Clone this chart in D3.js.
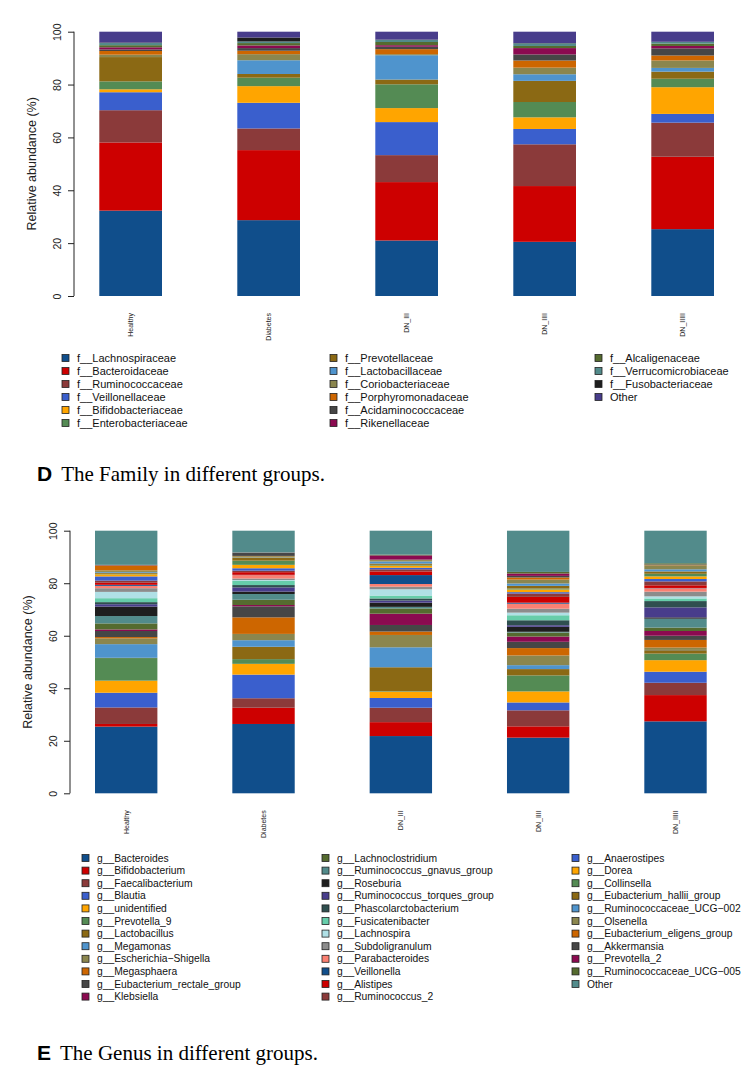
<!DOCTYPE html>
<html><head><meta charset="utf-8">
<script src="https://cdn.jsdelivr.net/npm/d3@7"></script>
<style>body{margin:0;background:#fff}svg{display:block}</style>
</head><body><svg id="c" width="750" height="1075"></svg>
<script>
// ---------- data ----------
const groups = ["Healthy", "Diabetes", "DN_III", "DN_IIII", "DN_IIIII"];
const yTicks = [0, 20, 40, 60, 80, 100];

const familyNames = ["f__Lachnospiraceae","f__Bacteroidaceae","f__Ruminococcaceae","f__Veillonellaceae","f__Bifidobacteriaceae","f__Enterobacteriaceae","f__Prevotellaceae","f__Lactobacillaceae","f__Coriobacteriaceae","f__Porphyromonadaceae","f__Acidaminococcaceae","f__Rikenellaceae","f__Alcaligenaceae","f__Verrucomicrobiaceae","f__Fusobacteriaceae","Other"];
const familyHealthy  = [32.3, 25.8, 12.2, 6.8, 1.1, 3.0, 9.2, 0.0, 0.9, 1.4, 0.6, 0.8, 0.8, 0.8, 0.2, 4.1];
const familyDiabetes = [28.7, 26.5, 8.2, 9.7, 6.3, 3.2, 1.4, 5.2, 2.3, 1.3, 1.0, 1.0, 0.9, 0.6, 1.5, 2.2];
const familyDN_III   = [21.0, 22.1, 10.2, 12.5, 5.3, 9.0, 1.8, 9.2, 0.4, 1.9, 0.9, 0.6, 1.2, 0.8, 0.1, 3.0];
const familyDN_IIII  = [20.5, 21.1, 15.8, 5.8, 4.4, 5.8, 8.0, 2.5, 2.5, 2.7, 2.3, 2.4, 0.8, 1.0, 0.1, 4.3];
const familyDN_IIIII = [25.3, 27.4, 12.9, 3.3, 10.1, 3.2, 2.7, 1.4, 2.8, 1.9, 2.7, 0.9, 0.9, 0.6, 0.1, 3.8];

const genusNames = ["g__Bacteroides","g__Bifidobacterium","g__Faecalibacterium","g__Blautia","g__unidentified","g__Prevotella_9","g__Lactobacillus","g__Megamonas","g__Escherichia\u2212Shigella","g__Megasphaera","g__Eubacterium_rectale_group","g__Klebsiella","g__Lachnoclostridium","g__Ruminococcus_gnavus_group","g__Roseburia","g__Ruminococcus_torques_group","g__Phascolarctobacterium","g__Fusicatenibacter","g__Lachnospira","g__Subdoligranulum","g__Parabacteroides","g__Veillonella","g__Alistipes","g__Ruminococcus_2","g__Anaerostipes","g__Dorea","g__Collinsella","g__Eubacterium_hallii_group","g__Ruminococcaceae_UCG\u2212002","g__Olsenella","g__Eubacterium_eligens_group","g__Akkermansia","g__Prevotella_2","g__Ruminococcaceae_UCG\u2212005","Other"];
const genusHealthy  = [25.4, 1.0, 6.3, 5.6, 4.6, 8.6, 0.1, 5.2, 2.2, 0.5, 2.3, 0.6, 2.3, 2.8, 3.6, 0.9, 0.8, 1.5, 2.4, 1.4, 0.9, 0.4, 0.8, 0.8, 1.6, 0.8, 0.2, 0.4, 0.3, 0.6, 1.8, 0.1, 0.1, 0.1, 13.0];
const genusDiabetes = [26.4, 6.2, 3.6, 9.0, 4.1, 1.8, 4.7, 2.5, 2.4, 6.3, 4.2, 0.5, 2.0, 2.2, 0.9, 1.6, 0.9, 1.6, 0.3, 0.6, 1.3, 0.1, 1.0, 0.6, 0.9, 1.3, 1.6, 1.1, 0.1, 0.5, 0.1, 1.1, 0.1, 0.1, 8.3];
const genusDN_III   = [21.8, 5.3, 5.5, 3.7, 2.4, 0.2, 9.1, 7.6, 4.7, 1.3, 2.5, 4.3, 2.0, 0.6, 1.6, 0.8, 0.8, 1.1, 2.4, 1.0, 1.0, 3.4, 1.4, 0.8, 0.6, 0.8, 0.3, 0.5, 0.8, 0.5, 0.1, 0.1, 1.6, 0.3, 9.1];
const genusDN_IIII  = [21.2, 4.3, 6.1, 3.0, 4.2, 6.1, 2.4, 1.5, 3.7, 2.8, 2.4, 2.0, 1.5, 0.3, 1.9, 0.6, 1.9, 1.9, 1.0, 1.5, 1.9, 0.4, 2.2, 1.3, 0.5, 1.0, 0.4, 1.0, 0.9, 1.5, 0.8, 0.6, 0.9, 0.6, 15.7];
const genusDN_IIIII = [27.4, 10.0, 4.7, 4.2, 4.4, 2.5, 1.3, 0.1, 0.9, 2.9, 1.6, 1.8, 1.3, 3.4, 0.5, 3.8, 2.4, 1.0, 0.8, 1.8, 1.3, 0.1, 1.0, 1.5, 0.9, 1.0, 1.0, 0.9, 0.8, 1.5, 0.1, 0.1, 0.1, 0.5, 12.4];

// ---------- styles ----------
const palette = ["#104E8B","#CD0000","#8B3A3A","#3A5FCD","#FFA500","#548B54","#8B6914","#4F94CD","#8B864E","#CD6600","#464646","#8B0A50","#556B2F","#528B8B","#1E1E1E","#483D8B","#2F4F4F","#66CDAA","#B0E0E6","#8C8C8C","#FA8072"];

const svg = d3.select("#c");

function drawPanel(cfg) {
  const g = svg.append("g");
  const names = cfg.names;
  const rows = groups.map((grp, gi) => {
    const r = { group: grp };
    names.forEach((n, i) => { r[n] = cfg.series[gi][i]; });
    return r;
  });
  const stack = d3.stack().keys(names)(rows);
  const color = d3.scaleOrdinal().domain(names).range(cfg.colors);
  const x = d3.scaleBand().domain(groups).range(cfg.xRange).paddingInner(0.5457).paddingOuter(0);
  const y = d3.scaleLinear().domain([0, 100]).range(cfg.yRange);

  g.append("g").selectAll("g").data(stack).join("g")
    .attr("fill", d => color(d.key))
    .selectAll("rect").data(d => d).join("rect")
    .attr("x", d => x(d.data.group))
    .attr("width", x.bandwidth())
    .attr("y", d => y(d[1]))
    .attr("height", d => Math.max(0, y(d[0]) - y(d[1])));

  // y axis (R style)
  const ax = g.append("g").attr("transform", `translate(${cfg.axisX},0)`)
    .call(d3.axisLeft(y).tickValues(yTicks).tickSize(6).tickPadding(4));
  ax.select(".domain").attr("d", `M0,${y(0)}V${y(100)}`).attr("stroke", "#222");
  ax.selectAll(".tick line").attr("stroke", "#222");
  ax.selectAll(".tick text")
    .attr("font-family", "Liberation Sans, Arial, sans-serif").attr("font-size", 10.5)
    .attr("fill", "#222")
    .attr("text-anchor", "middle").attr("x", 0).attr("dy", 0)
    .attr("transform", "translate(-17,0) rotate(-90)")
    .attr("dominant-baseline", "central");

  g.append("text")
    .attr("transform", `translate(${cfg.axisX - 42},${(y(0) + y(100)) / 2}) rotate(-90)`)
    .attr("text-anchor", "middle").attr("dominant-baseline", "central")
    .attr("font-family", "Liberation Sans, Arial, sans-serif").attr("font-size", 12.5)
    .attr("fill", "#222")
    .text("Relative abundance (%)");

  // x labels (rotated)
  g.append("g").selectAll("text").data(groups).join("text")
    .attr("transform", d => `translate(${x(d) + x.bandwidth() / 2},${y(0) + 17}) rotate(-90)`)
    .attr("text-anchor", "end").attr("dominant-baseline", "central")
    .attr("font-family", "Liberation Sans, Arial, sans-serif").attr("font-size", 7)
    .attr("fill", "#222")
    .text(d => d);

  // legend (3 columns, column-major)
  const perCol = Math.ceil(names.length / 3);
  const lg = g.append("g");
  names.forEach((n, i) => {
    const col = Math.floor(i / perCol), row = i % perCol;
    const lx = cfg.legendX[col], ly = cfg.legendY + row * cfg.legendDy;
    lg.append("rect").attr("x", lx).attr("y", ly - 3.5).attr("width", 7).attr("height", 7)
      .attr("fill", color(n)).attr("stroke", "#222").attr("stroke-width", 0.8);
    lg.append("text").attr("x", lx + 15).attr("y", ly)
      .attr("dominant-baseline", "central")
      .attr("font-family", "Liberation Sans, Arial, sans-serif").attr("font-size", cfg.legendFont)
      .attr("fill", "#111")
      .text(n);
  });

  // panel title
  const t = g.append("text").attr("x", 37).attr("y", cfg.titleY)
    .attr("font-size", 21);
  t.append("tspan").attr("font-family", "Liberation Sans, Arial, sans-serif").attr("font-weight", "bold").text(cfg.letter);
  t.append("tspan").attr("font-family", "Liberation Serif, Times New Roman, serif").attr("dx", 9).text(cfg.title);
}

drawPanel({
  names: familyNames,
  series: [familyHealthy, familyDiabetes, familyDN_III, familyDN_IIII, familyDN_IIIII],
  colors: palette.slice(0, 15).concat([palette[15]]),
  xRange: [99.3, 714], yRange: [296, 31.7], axisX: 74,
  legendX: [62, 330, 595], legendY: 358, legendDy: 13, legendFont: 11,
  titleY: 481, letter: "D", title: "The Family in different groups."
});

drawPanel({
  names: genusNames,
  series: [genusHealthy, genusDiabetes, genusDN_III, genusDN_IIII, genusDN_IIIII],
  colors: genusNames.map((n, i) => palette[i % palette.length]),
  xRange: [95, 706.7], yRange: [793.3, 530.7], axisX: 70,
  legendX: [82, 322, 572], legendY: 858, legendDy: 12.6, legendFont: 10.3,
  titleY: 1060, letter: "E", title: "The Genus in different groups."
});
</script></body></html>
